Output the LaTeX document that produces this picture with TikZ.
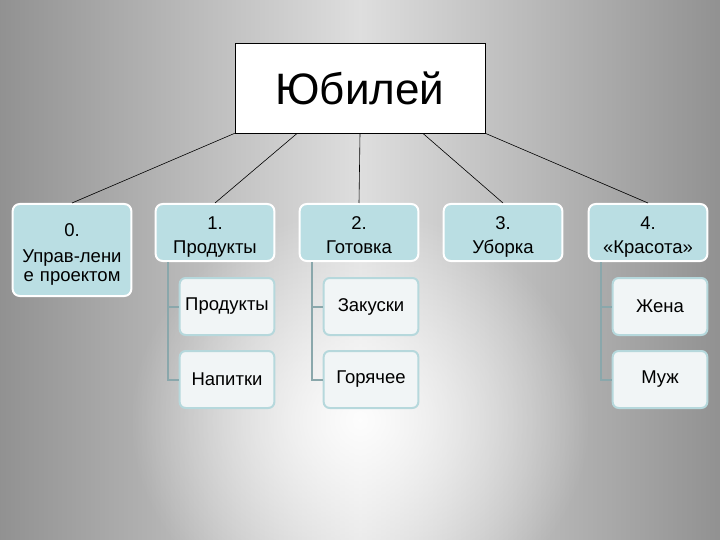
\documentclass[tikz,border=0pt]{standalone}
\usepackage{fontspec}
\setmainfont{Liberation Sans}
\usetikzlibrary{positioning, fadings}

\definecolor{tealfill}{HTML}{BADEE3}
\definecolor{kidfill}{HTML}{F1F5F6}
\definecolor{kidedge}{HTML}{B6D8DC}
\definecolor{bracketgray}{HTML}{8AA7AB}

\tikzfading[name=spotfade, inner color=transparent!0, outer color=transparent!100]

\tikzset{
rootbox/.style={draw=black, line width=0.6pt, fill=white, minimum width=250pt, minimum height=90pt, font=\fontsize{44}{48}\selectfont},
topicbox/.style={draw=white, line width=2pt, fill=tealfill, rounded corners=7pt, minimum width=116pt, minimum height=57pt, inner ysep=0pt, text width=112pt, align=center, font=\fontsize{18.5}{19.5}\selectfont, execute at begin node=\rule{0pt}{24pt}, execute at end node=\strut},
kidbox/.style={draw=kidedge, line width=2pt, fill=kidfill, rounded corners=6pt, minimum width=91pt, minimum height=57pt, text width=88pt, align=center, font=\fontsize{18.5}{20}\selectfont},
link/.style={draw=black, line width=0.6pt},
bracket/.style={draw=bracketgray, line width=2pt}
}

\begin{document}
\begin{tikzpicture}[x=1pt, y=-1pt]

% background
\useasboundingbox (0,0) rectangle (720,540);
\shade[left color=black!43, right color=black!43, middle color=black!13] (0,0) rectangle (720,540);
\fill[white, path fading=spotfade, opacity=0.95] (360,420) ellipse (230 and 210);

\node (root) [rootbox] at (360,88) {Юбилей};

% first level
\node (p0) [topicbox, minimum height=92pt, anchor=north] at (72,203) {0.\\[6pt]Управ-лени\\е проектом};
\node (p1) [topicbox, anchor=north] at (215,203) {1.\\[5pt]Продукты};
\node (p2) [topicbox, anchor=north] at (359,203) {2.\\[5pt]Готовка};
\node (p3) [topicbox, anchor=north] at (503,203) {3.\\[5pt]Уборка};
\node (p4) [topicbox, anchor=north] at (648,203) {4.\\[5pt]«Красота»};

\draw[link] (root.south west) -- (p0.north);
\draw[link] ([xshift=62.5pt]root.south west) -- (p1.north);
\draw[link] (root.south) -- (p2.north);
\draw[link] ([xshift=-62.5pt]root.south east) -- (p3.north);
\draw[link] (root.south east) -- (p4.north);

% second level
\node (k1a) [kidbox, below=15pt of p1.south east, anchor=north east] {Продукты};
\node (k1b) [kidbox, below=14pt of k1a] {Напитки};
\node (k2a) [kidbox, below=15pt of p2.south east, anchor=north east] {Закуски};
\node (k2b) [kidbox, below=14pt of k2a] {Горячее};
\node (k4a) [kidbox, below=15pt of p4.south east, anchor=north east] {Жена};
\node (k4b) [kidbox, below=14pt of k4a] {Муж};

\draw[bracket] ([xshift=13pt]p1.south west) |- (k1b.west);
\draw[bracket] ([xshift=13pt]p1.south west |- k1a.west) -- (k1a.west);
\draw[bracket] ([xshift=13pt]p2.south west) |- (k2b.west);
\draw[bracket] ([xshift=13pt]p2.south west |- k2a.west) -- (k2a.west);
\draw[bracket] ([xshift=13pt]p4.south west) |- (k4b.west);
\draw[bracket] ([xshift=13pt]p4.south west |- k4a.west) -- (k4a.west);

\end{tikzpicture}
\end{document}
